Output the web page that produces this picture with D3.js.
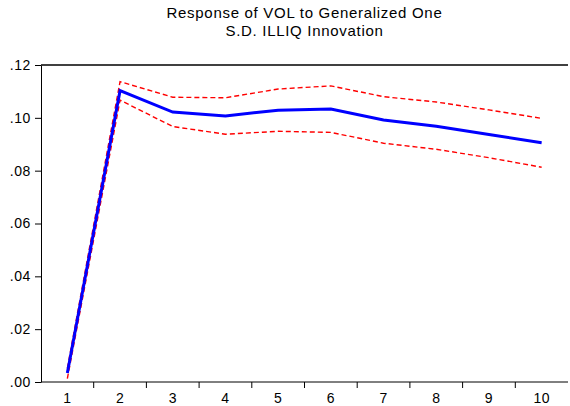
<!DOCTYPE html>
<html>
<head>
<meta charset="utf-8">
<script src="https://cdn.jsdelivr.net/npm/d3@7"></script>
<style>
  body { margin: 0; background: #fff; }
  text { font-family: "Liberation Sans", Arial, sans-serif; }
</style>
</head>
<body>
<div id="chart"></div>
<script>
const periods = [1, 2, 3, 4, 5, 6, 7, 8, 9, 10];
const response = [0.0034, 0.1103, 0.1022, 0.1007, 0.1029, 0.1033, 0.0992, 0.0968, 0.0937, 0.0906];
const upper = [0.0052, 0.1137, 0.1078, 0.1076, 0.1109, 0.1121, 0.1080, 0.1060, 0.1030, 0.0998];
const lower = [0.0013, 0.1067, 0.0967, 0.0938, 0.0949, 0.0945, 0.0904, 0.0881, 0.0849, 0.0813];
const yTicks = [0, 0.02, 0.04, 0.06, 0.08, 0.10, 0.12];

const width = 570;
const height = 406;
const margin = { top: 65, right: 2, bottom: 24, left: 41 };

const svg = d3.select('#chart')
  .append('svg')
  .attr('width', width)
  .attr('height', height);

const x = d3.scaleBand()
  .domain(periods)
  .range([margin.left, width - margin.right]);

const y = d3.scaleLinear()
  .domain([0, 0.12])
  .range([height - margin.bottom, margin.top]);

const cx = d => x(d) + x.bandwidth() / 2;
const midX = (margin.left + width - margin.right) / 2;

// title
svg.append('text')
  .attr('x', midX)
  .attr('y', 18)
  .attr('text-anchor', 'middle')
  .attr('font-size', '15px')
  .attr('letter-spacing', '0.7px')
  .text('Response of VOL to Generalized One');

svg.append('text')
  .attr('x', midX)
  .attr('y', 36)
  .attr('text-anchor', 'middle')
  .attr('font-size', '15px')
  .attr('letter-spacing', '0.7px')
  .text('S.D. ILLIQ Innovation');

// top frame line
svg.append('line')
  .attr('x1', margin.left)
  .attr('x2', width - margin.right)
  .attr('y1', margin.top)
  .attr('y2', margin.top)
  .attr('stroke', '#404040')
  .attr('stroke-width', 2);

// y axis
const yAxis = svg.append('g')
  .attr('transform', `translate(${margin.left},0)`)
  .call(d3.axisLeft(y).tickValues(yTicks).tickSize(6).tickPadding(4).tickSizeOuter(0)
    .tickFormat(d => d3.format('.2f')(d).replace(/^0/, '')));
yAxis.selectAll('text')
  .attr('font-size', '14px')
  .attr('letter-spacing', '0.6px')
  .attr('fill', '#000')
  .style('font-family', '"Liberation Sans", Arial, sans-serif');
yAxis.selectAll('line, path').attr('stroke', '#000');

// x axis: ticks between categories
const xAxisG = svg.append('g')
  .attr('transform', `translate(0,${height - margin.bottom})`);
xAxisG.append('line')
  .attr('x1', margin.left)
  .attr('x2', width - margin.right)
  .attr('stroke', '#000');
xAxisG.selectAll('.sep')
  .data(periods.slice(1))
  .enter()
  .append('line')
  .attr('class', 'sep')
  .attr('x1', d => x(d))
  .attr('x2', d => x(d))
  .attr('y1', 0)
  .attr('y2', 6)
  .attr('stroke', '#000');
xAxisG.selectAll('.lbl')
  .data(periods)
  .enter()
  .append('text')
  .attr('class', 'lbl')
  .attr('x', d => cx(d))
  .attr('y', 21)
  .attr('text-anchor', 'middle')
  .attr('font-size', '14px')
  .attr('letter-spacing', '0.4px')
  .text(d => d);

const line = d3.line()
  .x((d, i) => cx(periods[i]))
  .y(d => y(d));

[upper, lower].forEach(band => {
  svg.append('path')
    .datum(band)
    .attr('d', line)
    .attr('fill', 'none')
    .attr('stroke', '#ff0000')
    .attr('stroke-width', 1.4)
    .attr('stroke-dasharray', '5,3');
});

svg.append('path')
  .datum(response)
  .attr('d', line)
  .attr('fill', 'none')
  .attr('stroke', '#0000ff')
  .attr('stroke-width', 3);
</script>
</body>
</html>
